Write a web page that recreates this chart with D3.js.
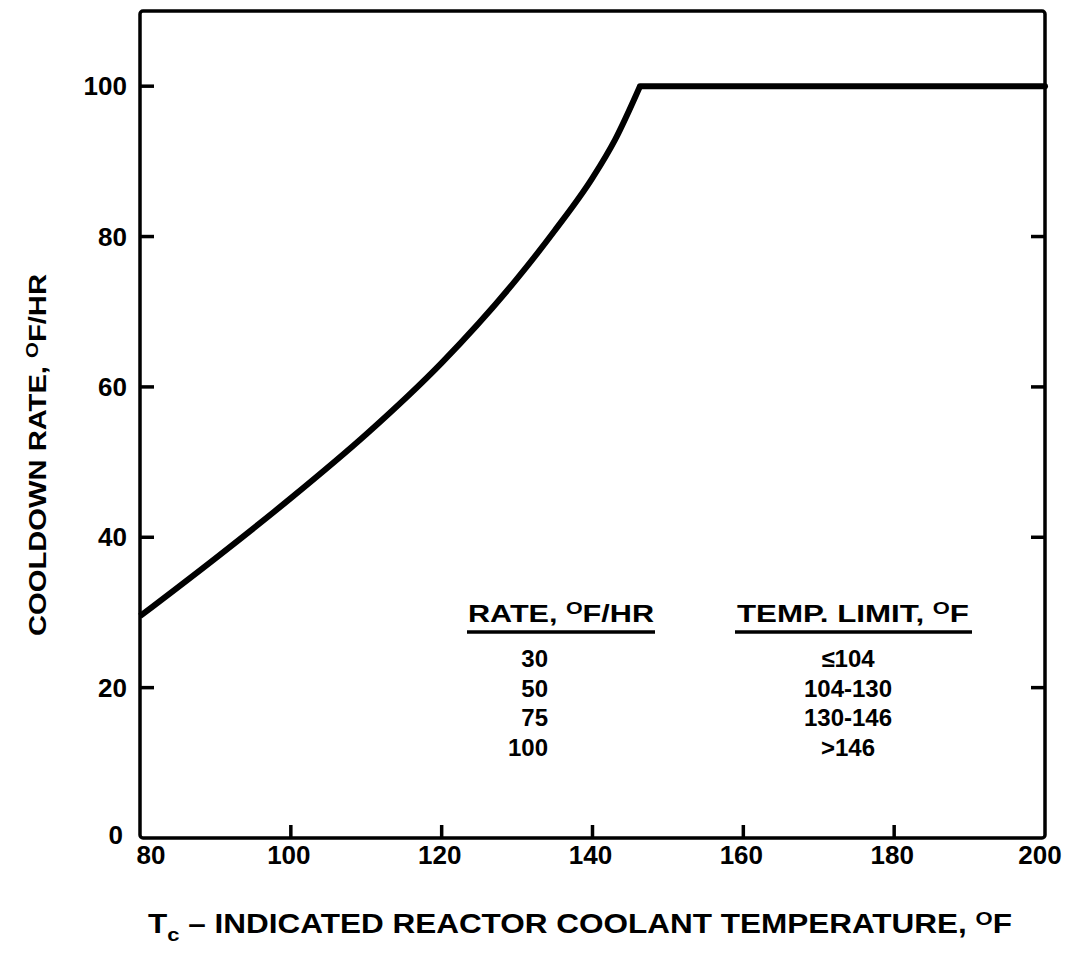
<!DOCTYPE html>
<html>
<head>
<meta charset="utf-8">
<script src="https://cdn.jsdelivr.net/npm/d3@7"></script>
<style>
  body { margin: 0; background: #fff; }
  text { font-family: 'Liberation Sans', Arial, sans-serif; font-weight: bold; fill: #000; }
</style>
</head>
<body>
<script>
const width = 1068;
const height = 955;

// curve (deg F, deg F/hr)
const curveTemps = [80, 90, 100, 110, 120, 130, 135, 140, 143, 146.3];
const curveRates = [29.5, 37.2, 45.2, 53.7, 63.2, 74.4, 80.8, 87.8, 92.9, 100];
const flatTemps = [146.3, 200];
const flatRates = [100, 100];

const xTicks = [80, 100, 120, 140, 160, 180, 200];
const yTicks = [0, 20, 40, 60, 80, 100];

const tableRates = ['30', '50', '75', '100'];
const tableLimits = ['\u2264104', '104-130', '130-146', '>146'];

const svg = d3.select('body').append('svg')
  .attr('width', width)
  .attr('height', height);

const x = d3.scaleLinear().domain([80, 200]).range([140, 1045]);
const y = d3.scaleLinear().domain([0, 110]).range([838, 11]);

// frame
svg.append('rect')
  .attr('x', x(80))
  .attr('y', y(110))
  .attr('width', x(200) - x(80))
  .attr('height', y(0) - y(110))
  .attr('rx', 3)
  .style('fill', 'none')
  .style('stroke', '#000')
  .style('stroke-width', 3.5);

// inward ticks
const ticks = svg.append('g').style('stroke', '#000').style('stroke-width', 3.5);
ticks.selectAll('.lt')
  .data(yTicks.filter(d => d > 0))
  .enter().append('line')
  .attr('x1', x(80)).attr('x2', x(80) + 14)
  .attr('y1', d => y(d)).attr('y2', d => y(d));
ticks.selectAll('.rt')
  .data(yTicks.filter(d => d > 0 && d < 100))
  .enter().append('line')
  .attr('x1', x(200)).attr('x2', x(200) - 14)
  .attr('y1', d => y(d)).attr('y2', d => y(d));
ticks.selectAll('.bt')
  .data(xTicks.slice(1, -1))
  .enter().append('line')
  .attr('x1', d => x(d)).attr('x2', d => x(d))
  .attr('y1', y(0)).attr('y2', y(0) - 13);

// tick labels
svg.append('g').selectAll('text')
  .data(xTicks)
  .enter().append('text')
  .attr('x', (d, i) => x(d) + (i === 0 ? 11 : i === xTicks.length - 1 ? -5 : -2))
  .attr('y', 864)
  .attr('text-anchor', 'middle')
  .style('font-size', '26px')
  .text(d => d);

svg.append('g').selectAll('text')
  .data(yTicks)
  .enter().append('text')
  .attr('x', d => d === 0 ? 123 : 127)
  .attr('y', d => (d === 0 ? y(d) - 3 : y(d)) + 9)
  .attr('text-anchor', 'end')
  .style('font-size', '26px')
  .text(d => d);

// curve
const line = d3.line()
  .x(d => x(d[0]))
  .y(d => y(d[1]));

svg.append('path')
  .datum(curveTemps.map((t, i) => [t, curveRates[i]]))
  .attr('d', line.curve(d3.curveMonotoneX))
  .style('fill', 'none')
  .style('stroke', '#000')
  .style('stroke-width', 6)
  .style('stroke-linejoin', 'round');

svg.append('path')
  .datum(flatTemps.map((t, i) => [t, flatRates[i]]))
  .attr('d', line.curve(d3.curveLinear))
  .style('fill', 'none')
  .style('stroke', '#000')
  .style('stroke-width', 6)
  .style('stroke-linecap', 'round');

// degree written as raised O
function degText(sel, before, after) {
  sel.append('tspan').text(before);
  sel.append('tspan').attr('dy', -8).style('font-size', '0.7em').text('O');
  sel.append('tspan').attr('dy', 8).text(after);
}

// table
const table = svg.append('g');
table.append('text')
  .attr('x', 561).attr('y', 622)
  .attr('text-anchor', 'middle')
  .attr('textLength', 186).attr('lengthAdjust', 'spacingAndGlyphs')
  .style('font-size', '23px')
  .call(degText, 'RATE, ', 'F/HR');
table.append('text')
  .attr('x', 853).attr('y', 622)
  .attr('text-anchor', 'middle')
  .attr('textLength', 232).attr('lengthAdjust', 'spacingAndGlyphs')
  .style('font-size', '23px')
  .call(degText, 'TEMP. LIMIT, ', 'F');

table.append('line')
  .attr('x1', 467).attr('x2', 655).attr('y1', 632).attr('y2', 632)
  .style('stroke', '#000').style('stroke-width', 3.5);
table.append('line')
  .attr('x1', 735).attr('x2', 972).attr('y1', 632).attr('y2', 632)
  .style('stroke', '#000').style('stroke-width', 3.5);

table.selectAll('.r')
  .data(tableRates)
  .enter().append('text')
  .attr('x', 548)
  .attr('y', (d, i) => 667 + i * 29.5)
  .attr('text-anchor', 'end')
  .style('font-size', '24px')
  .text(d => d);

table.selectAll('.l')
  .data(tableLimits)
  .enter().append('text')
  .attr('x', 848)
  .attr('y', (d, i) => 667 + i * 29.5)
  .attr('text-anchor', 'middle')
  .style('font-size', '24px')
  .text(d => d);

// axis titles
const xTitle = svg.append('text')
  .attr('x', 580).attr('y', 933)
  .attr('text-anchor', 'middle')
  .attr('textLength', 864).attr('lengthAdjust', 'spacingAndGlyphs')
  .style('font-size', '27px');
xTitle.append('tspan').text('T');
xTitle.append('tspan').attr('dy', 8).style('font-size', '0.7em').text('c');
xTitle.append('tspan').attr('dy', -8).text(' \u2013 INDICATED REACTOR COOLANT TEMPERATURE, ');
xTitle.append('tspan').attr('dy', -8).style('font-size', '0.7em').text('O');
xTitle.append('tspan').attr('dy', 8).text('F');

svg.append('text')
  .attr('transform', 'translate(46,455) rotate(-90)')
  .attr('text-anchor', 'middle')
  .attr('textLength', 362).attr('lengthAdjust', 'spacingAndGlyphs')
  .style('font-size', '24px')
  .call(degText, 'COOLDOWN RATE, ', 'F/HR');
</script>
</body>
</html>
